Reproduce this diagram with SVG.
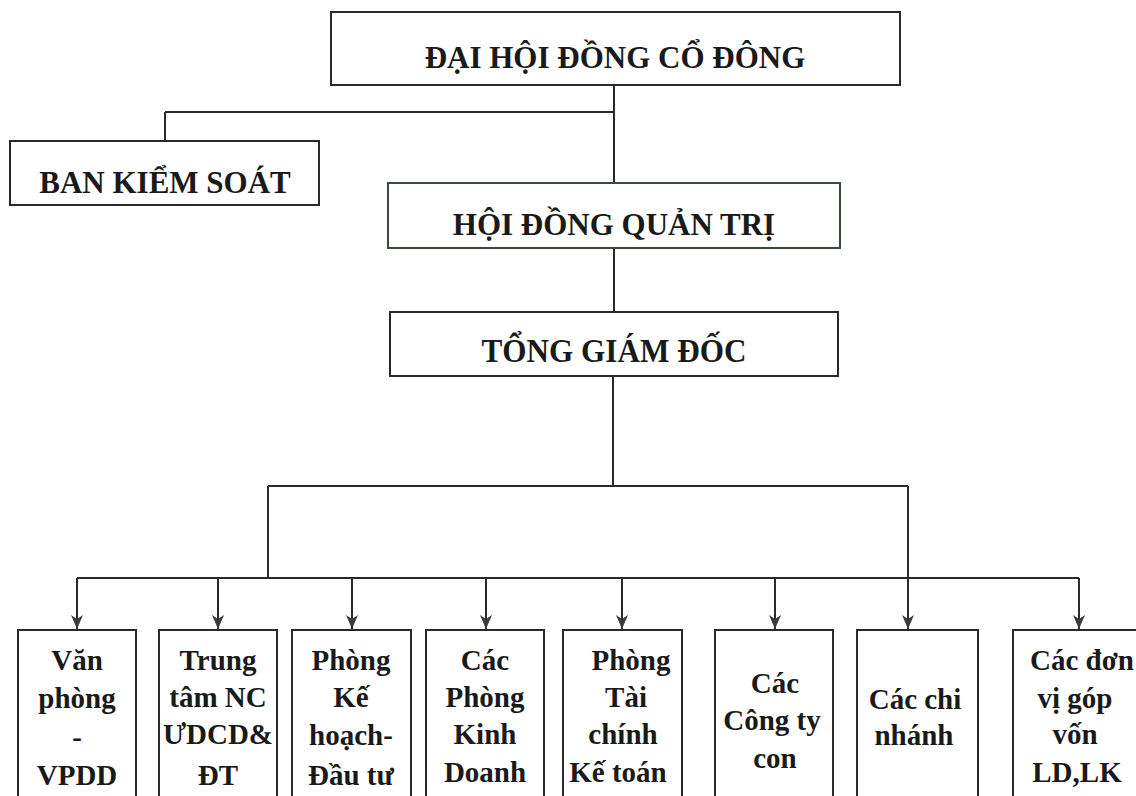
<svg xmlns="http://www.w3.org/2000/svg" width="1136" height="796" viewBox="0 0 1136 796">
<style>
.box{fill:#fff;stroke:#2a2a2a;stroke-width:2}
.t{font-family:"Liberation Serif","Times New Roman",serif;font-weight:bold;fill:#1a1a1a;text-anchor:middle}
.big{font-size:31px}
.sm{font-size:29px}
.ln{fill:none;stroke:#2a2a2a;stroke-width:2}
</style>
<defs>
<marker id="ah" markerWidth="15" markerHeight="13" refX="14" refY="6" orient="auto" markerUnits="userSpaceOnUse" viewBox="0 0 15 13">
<path d="M0,0 L14,6 L0,12 L4,6 Z" fill="#3a3a3a"/>
</marker>
</defs>
<rect width="1136" height="796" fill="#fff"/>
<g id="connectors">
<path class="ln" d="M614,85 V183"/>
<path class="ln" d="M165,112 H614"/>
<path class="ln" d="M165,112 V141"/>
<path class="ln" d="M614,248 V312"/>
<path class="ln" d="M613,376 V486"/>
<path class="ln" d="M268,486 H908"/>
<path class="ln" d="M268,486 V578"/>
<path class="ln" d="M908,486 V578"/>
<path class="ln" d="M77,578 H1079"/>
<path class="ln" d="M77,578 V629" marker-end="url(#ah)"/>
<path class="ln" d="M218,578 V629" marker-end="url(#ah)"/>
<path class="ln" d="M352,578 V629" marker-end="url(#ah)"/>
<path class="ln" d="M486,578 V629" marker-end="url(#ah)"/>
<path class="ln" d="M622,578 V629" marker-end="url(#ah)"/>
<path class="ln" d="M775,578 V629" marker-end="url(#ah)"/>
<path class="ln" d="M908,578 V629" marker-end="url(#ah)"/>
<path class="ln" d="M1079,578 V629" marker-end="url(#ah)"/>
</g>
<g id="dhdcd">
<rect class="box" x="331" y="12" width="569" height="73"/>
<text class="t big" x="615" y="68">ĐẠI HỘI ĐỒNG CỔ ĐÔNG</text>
</g>
<g id="bks">
<rect class="box" x="10" y="141" width="309" height="64"/>
<text class="t big" x="165" y="193">BAN KIỂM SOÁT</text>
</g>
<g id="hdqt">
<rect class="box" x="388" y="183" width="452" height="65" style="stroke:#3c4a3c"/>
<text class="t big" x="614" y="235">HỘI ĐỒNG QUẢN TRỊ</text>
</g>
<g id="tgd">
<rect class="box" x="390" y="312" width="448" height="64"/>
<text class="t" x="614" y="362" style="font-size:33px" textLength="265" lengthAdjust="spacingAndGlyphs">TỔNG GIÁM ĐỐC</text>
</g>
<g id="vanphong">
<rect class="box" x="18" y="630" width="118" height="180"/>
<text class="t sm" x="77"><tspan x="77" y="670">Văn</tspan><tspan x="77" y="708">phòng</tspan><tspan x="77" y="747">-</tspan><tspan x="77" y="785">VPDD</tspan></text>
</g>
<g id="trungtam">
<rect class="box" x="159" y="630" width="118" height="180"/>
<text class="t sm" x="218"><tspan x="218" y="670">Trung</tspan><tspan x="218" y="707">tâm NC</tspan><tspan x="218" y="744">ƯDCD&amp;</tspan><tspan x="218" y="785">ĐT</tspan></text>
</g>
<g id="khdt">
<rect class="box" x="292" y="630" width="119" height="180"/>
<text class="t sm" x="351"><tspan x="351" y="670">Phòng</tspan><tspan x="351" y="707">Kế</tspan><tspan x="351" y="745">hoạch-</tspan><tspan x="351" y="785">Đầu tư</tspan></text>
</g>
<g id="kinhdoanh">
<rect class="box" x="426" y="630" width="118" height="180"/>
<text class="t sm" x="485"><tspan x="485" y="670">Các</tspan><tspan x="485" y="707">Phòng</tspan><tspan x="485" y="744">Kinh</tspan><tspan x="485" y="782">Doanh</tspan></text>
</g>
<g id="taichinh">
<rect class="box" x="563" y="630" width="119" height="180"/>
<text class="t sm" x="623"><tspan x="631" y="670">Phòng</tspan><tspan x="626" y="707">Tài</tspan><tspan x="623" y="744">chính</tspan><tspan x="618" y="782">Kế toán</tspan></text>
</g>
<g id="congtycon">
<rect class="box" x="715" y="630" width="118" height="180"/>
<text class="t sm" x="774"><tspan x="775" y="693">Các</tspan><tspan x="772" y="730">Công ty</tspan><tspan x="775" y="768">con</tspan></text>
</g>
<g id="chinhanh">
<rect class="box" x="857" y="630" width="121" height="180"/>
<text class="t sm" x="917"><tspan x="915" y="709">Các chi</tspan><tspan x="914" y="745">nhánh</tspan></text>
</g>
<g id="gopvon">
<rect class="box" x="1013" y="630" width="132" height="180"/>
<text class="t sm" x="1078"><tspan x="1082" y="670">Các đơn</tspan><tspan x="1075" y="708">vị góp</tspan><tspan x="1075" y="744">vốn</tspan><tspan x="1077" y="782">LD,LK</tspan></text>
</g>
</svg>
